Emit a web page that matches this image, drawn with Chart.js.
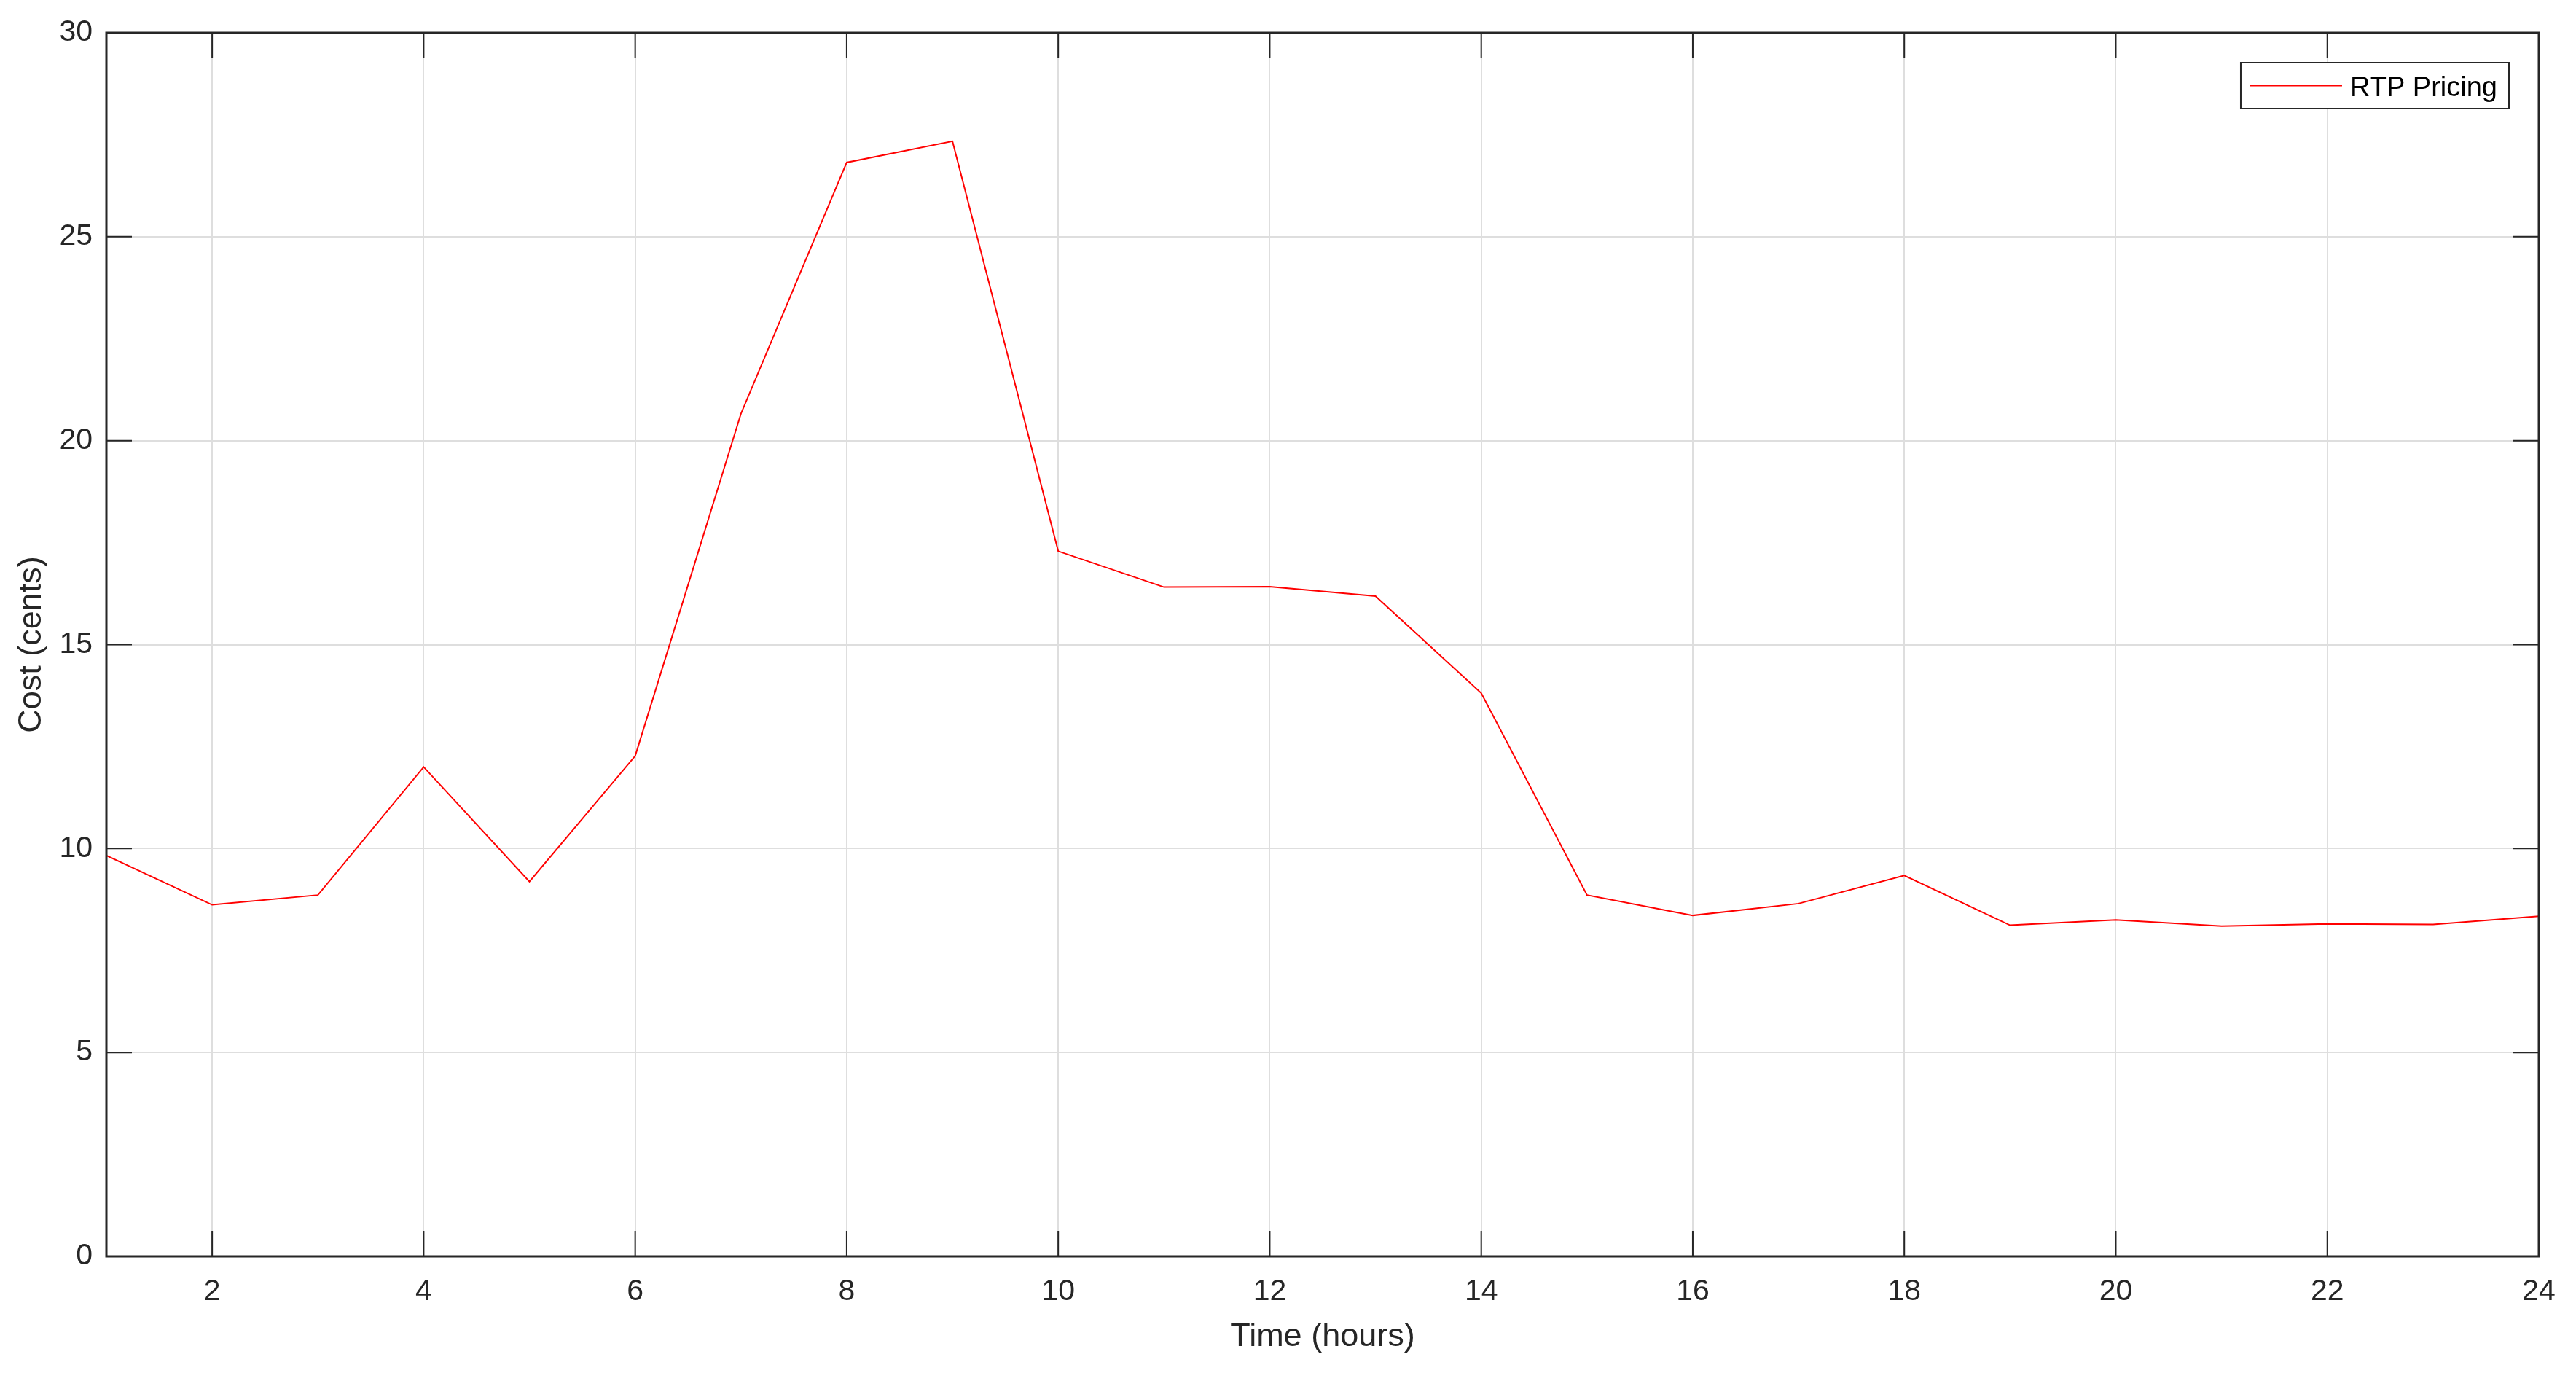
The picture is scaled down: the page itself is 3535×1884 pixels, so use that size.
<!DOCTYPE html>
<html>
<head>
<meta charset="utf-8">
<title>RTP Pricing</title>
<script src="https://cdn.jsdelivr.net/npm/chart.js@4/dist/chart.umd.min.js"></script>
<style>
  html, body { margin: 0; padding: 0; background: #fff; }
  #wrap { width: 3535px; height: 1884px; }
</style>
</head>
<body>
<div id="wrap"><canvas id="rtpChart" width="3535" height="1884"></canvas></div>
<script>
const hours = [1, 2, 3, 4, 5, 6, 7, 8, 9, 10, 11, 12, 13, 14, 15, 16, 17, 18, 19, 20, 21, 22, 23, 24];
const rtpCost = [9.83, 8.62, 8.86, 12.0, 9.19, 12.27, 20.66, 26.82, 27.34, 17.29, 16.41, 16.42,
                 16.19, 13.81, 8.86, 8.36, 8.65, 9.34, 8.12, 8.25, 8.10, 8.15, 8.14, 8.34];
const xTicks = [2, 4, 6, 8, 10, 12, 14, 16, 18, 20, 22, 24];
const yTicks = [0, 5, 10, 15, 20, 25, 30];

const axisColor = "#262626";
const gridColor = "#dedede";
const fontFamily = "'Liberation Sans', Arial, Helvetica, sans-serif";

// matlab style: closed box, inward ticks on all four sides, boxed legend inside
const boxPlugin = {
  id: "boxPlugin",
  afterDatasetsDraw(chart) {
    const { ctx, chartArea: a, scales } = chart;
    const len = 35;
    ctx.save();
    ctx.strokeStyle = axisColor;
    ctx.lineWidth = 2;
    ctx.beginPath();
    scales.x.ticks.forEach(t => {
      const px = scales.x.getPixelForValue(t.value);
      ctx.moveTo(px, a.bottom); ctx.lineTo(px, a.bottom - len);
      ctx.moveTo(px, a.top); ctx.lineTo(px, a.top + len);
    });
    scales.y.ticks.forEach(t => {
      const py = scales.y.getPixelForValue(t.value);
      ctx.moveTo(a.left, py); ctx.lineTo(a.left + len, py);
      ctx.moveTo(a.right, py); ctx.lineTo(a.right - len, py);
    });
    ctx.stroke();
    ctx.lineWidth = 3;
    ctx.strokeRect(a.left, a.top, a.right - a.left, a.bottom - a.top);

    // legend
    const ds = chart.data.datasets[0];
    ctx.font = "38px " + fontFamily;
    const tw = ctx.measureText(ds.label).width;
    const boxRight = a.right - 41, boxTop = a.top + 41, boxH = 63;
    const boxW = 13 + 126 + 11 + tw + 16;
    const boxLeft = boxRight - boxW;
    const cy = boxTop + boxH / 2;
    ctx.fillStyle = "#fff";
    ctx.fillRect(boxLeft, boxTop, boxW, boxH);
    ctx.lineWidth = 2;
    ctx.strokeStyle = axisColor;
    ctx.strokeRect(boxLeft, boxTop, boxW, boxH);
    ctx.strokeStyle = ds.borderColor;
    ctx.lineWidth = 2;
    ctx.beginPath();
    ctx.moveTo(boxLeft + 13, cy);
    ctx.lineTo(boxLeft + 139, cy);
    ctx.stroke();
    ctx.fillStyle = "#000";
    ctx.textBaseline = "middle";
    ctx.textAlign = "left";
    ctx.fillText(ds.label, boxLeft + 150, cy + 4);
    ctx.restore();
  }
};

new Chart(document.getElementById("rtpChart").getContext("2d"), {
  type: "line",
  data: {
    datasets: [{
      label: "RTP Pricing",
      data: hours.map((h, i) => ({ x: h, y: rtpCost[i] })),
      borderColor: "#ff0000",
      backgroundColor: "#ff0000",
      borderWidth: 2,
      pointRadius: 0,
      tension: 0,
      fill: false
    }]
  },
  options: {
    responsive: false,
    animation: false,
    layout: { padding: { left: 0, top: 45, right: 51, bottom: 0 } },
    plugins: {
      legend: { display: false },
      tooltip: { enabled: false }
    },
    scales: {
      x: {
        type: "linear",
        min: 1,
        max: 24,
        afterBuildTicks: axis => { axis.ticks = xTicks.map(v => ({ value: v })); },
        afterFit: axis => { axis.height = 160; },
        grid: { color: gridColor, lineWidth: 2, drawTicks: false },
        border: { display: false },
        ticks: {
          color: axisColor,
          padding: 24,
          maxRotation: 0,
          font: { family: fontFamily, size: 41 }
        },
        title: {
          display: true,
          text: "Time (hours)",
          color: axisColor,
          padding: { top: 0, bottom: 22 },
          font: { family: fontFamily, size: 45 }
        }
      },
      y: {
        min: 0,
        max: 30,
        afterBuildTicks: axis => { axis.ticks = yTicks.map(v => ({ value: v })); },
        afterFit: axis => { axis.width = 146; },
        grid: { color: gridColor, lineWidth: 2, drawTicks: false },
        border: { display: false },
        ticks: {
          color: axisColor,
          padding: 19,
          font: { family: fontFamily, size: 41 }
        },
        title: {
          display: true,
          text: "Cost (cents)",
          color: axisColor,
          padding: { top: 17, bottom: 0 },
          font: { family: fontFamily, size: 45 }
        }
      }
    }
  },
  plugins: [boxPlugin]
});
</script>
</body>
</html>
